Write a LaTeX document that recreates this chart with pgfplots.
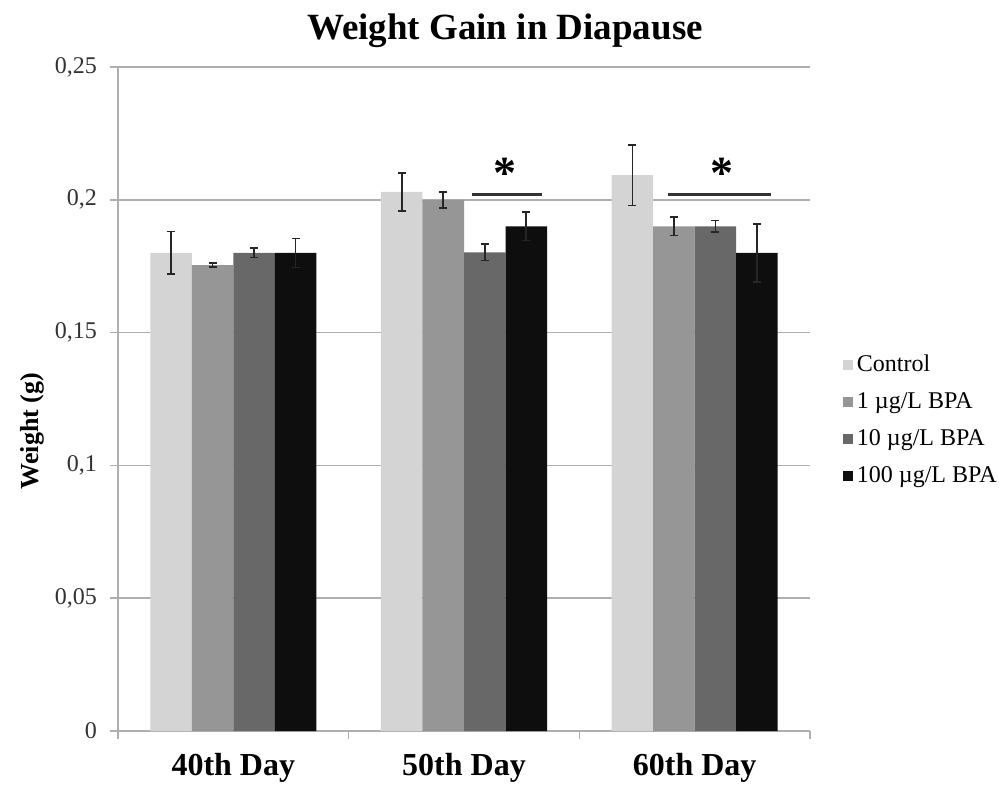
\documentclass[border=0pt]{standalone}
\usepackage{fontspec}
\setmainfont{Liberation Serif}
\usepackage{pgfplots}
\pgfplotsset{compat=1.18}
\definecolor{cA}{RGB}{212,212,212}
\definecolor{cB}{RGB}{150,150,150}
\definecolor{cC}{RGB}{104,104,104}
\definecolor{cD}{RGB}{14,14,14}
\definecolor{gridc}{RGB}{175,175,175}
\definecolor{tickc}{RGB}{50,50,50}
\begin{document}
\begin{tikzpicture}
\path[use as bounding box] (-118pt,-54pt) rectangle (881pt,731pt);
\begin{axis}[
  scale only axis, width=692pt, height=664pt,
  ybar=0pt, bar width=0.18,
  xmin=-0.5, xmax=2.5, ymin=0, ymax=0.25,
  ytick={0,0.05,0.1,0.15,0.2,0.25},
  scaled y ticks=false,
  yticklabel style={/pgf/number format/fixed, /pgf/number format/precision=2,
    /pgf/number format/use comma, /pgf/number format/assume math mode=true,
    font=\fontsize{24}{28}\selectfont, text=tickc, inner sep=0pt, xshift=-13pt},
  axis x line*=bottom, axis y line*=left,
  axis line style={-, gridc, line width=1.6pt},
  ymajorgrids, grid style={gridc, line width=1.6pt},
  tick style={gridc, line width=1.6pt}, tick align=outside, major tick length=8pt,
  xtick={-0.5,0.5,1.5,2.5}, xticklabels={},
  extra x ticks={0,1,2}, extra x tick labels={40th Day,50th Day,60th Day},
  extra x tick style={major tick length=0pt, grid=none,
    xticklabel style={font=\bfseries\fontsize{32}{36}\selectfont, text=black, inner sep=0pt, yshift=-22pt}},
  legend style={at={(1.043,0.5705)}, anchor=north west, draw=none, fill=none,
    font=\fontsize{24}{28}\selectfont, row sep=15pt, column sep=4pt,
    nodes={inner sep=0pt, text height=17pt, text depth=5pt}},
  legend cell align=left,
  legend image code/.code={\fill[#1] (0pt,-5pt) rectangle (10pt,5pt);},
  error bars/y dir=both, error bars/y explicit,
  error bars/error bar style={black!85, line width=1.6pt},
  error bars/error mark options={rotate=90, mark size=4pt, black!85, line width=1.6pt},
]
\addplot[fill=cA, draw=none] coordinates {(0,0.180) +- (0,0.008) (1,0.203) +- (0,0.0072) (2,0.2093) +- (0,0.0114)};
\addplot[fill=cB, draw=none] coordinates {(0,0.1754) +- (0,0.0008) (1,0.200) +- (0,0.003) (2,0.190) +- (0,0.0035)};
\addplot[fill=cC, draw=none] coordinates {(0,0.180) +- (0,0.0018) (1,0.1802) +- (0,0.0031) (2,0.190) +- (0,0.0022)};
\addplot[fill=cD, draw=none] coordinates {(0,0.180) +- (0,0.0055) (1,0.190) +- (0,0.0053) (2,0.180) +- (0,0.011)};
\legend{Control, 1 µg/L BPA, 10 µg/L BPA, 100 µg/L BPA}
\draw[line width=3pt, black!80] (axis cs:1.033,0.2021) -- (axis cs:1.339,0.2021);
\draw[line width=3pt, black!80] (axis cs:1.884,0.2021) -- (axis cs:2.333,0.2021);
\node[font=\bfseries\fontsize{46}{46}\selectfont] at (axis cs:1.178,0.2100) {*};
\node[font=\bfseries\fontsize{46}{46}\selectfont] at (axis cs:2.117,0.2100) {*};
\end{axis}
\node[font=\bfseries\fontsize{37}{40}\selectfont] at (387pt,700pt) {Weight Gain in Diapause};
\node[rotate=90, font=\bfseries\fontsize{26}{30}\selectfont] at (-86pt,300pt) {Weight (g)};
\end{tikzpicture}
\end{document}
